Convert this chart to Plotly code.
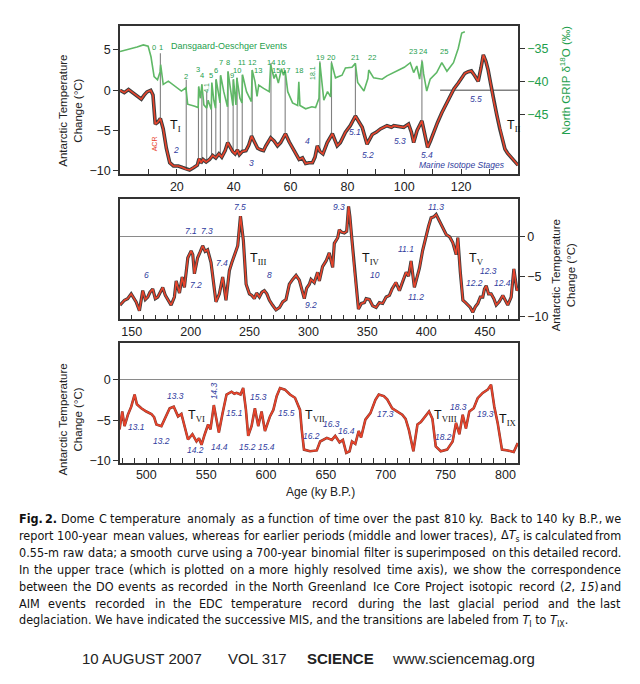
import re
import plotly.graph_objects as go

# ---------------- DATA ----------------
# Panel 1 (0-140 ky): EDC temperature anomaly (deg C)
p1_age = [0, 1.5, 3, 4.5, 6, 7.5, 8.5, 9.5, 10.8, 11.6, 12.4, 13.2, 14.2, 15.2, 16.3, 17.5, 18.8, 20.5, 22,
          23.2, 24.5, 26, 27.2, 27.8, 28.5, 29.2, 30.3, 31.5, 32.6, 33.7, 34.8, 35.8, 37.0, 37.9, 38.8, 39.6,
          40.5, 41.3, 42.0, 43.0, 44.3, 45.3, 46.3, 47.3, 48.4, 49.5, 50.5, 51.3, 53.0, 54.2, 55.4, 56.5, 58.2,
          59.5, 60.7, 62, 63, 64.2, 65.3, 66.5, 67.7, 68.6, 69.4, 70.3, 71.4, 72.9, 74.7, 76.4, 77.5, 79.3, 81,
          82.8, 84, 85.2, 86.9, 88.7, 90.2, 91.6, 93.9, 95.5, 96.3, 98, 99.8, 101.5, 102.5, 103.3, 104.5, 106.2,
          107.2, 108.2, 109.2, 110.3, 111.7, 113.2, 114.7, 116.1, 117.5, 119, 120.2, 121.3, 122.5, 123.6, 124.8,
          126, 127, 127.8, 128.7, 129.5, 130.4, 131.3, 132.5, 133.6, 134.5, 135.4, 136.3, 137.1, 138.2, 139.2, 140]
p1_temp = [0, -0.3, 0.1, -0.3, -0.6, -1.1, -0.6, -0.2, 0, -0.6, -4.2, -4.0, -3.5, -4.8, -7.2, -9.0, -9.4, -9.4, -9.6,
           -9.8, -9.9, -9.6, -9.3, -8.5, -9.0, -8.6, -8.9, -8.6, -8.1, -8.4, -7.9, -8.3, -7.5, -6.5, -7.1, -7.6,
           -7.9, -7.4, -8.0, -7.6, -7.5, -6.8, -5.7, -6.4, -7.2, -7.4, -7.5, -6.9, -5.9, -6.3, -6.9, -6.5, -5.4,
           -6.4, -7.2, -8.0, -8.6, -8.4, -9.1, -9.0, -9.0, -8.3, -6.9, -7.6, -7.9, -6.5, -5.4, -6.9, -6.5, -5.2, -4.4,
           -3.2, -3.9, -4.6, -6.7, -5.5, -5.2, -4.8, -4.4, -4.6, -4.4, -4.5, -4.6, -4.2, -5.2, -6.5, -5.0, -3.8,
           -5.5, -7.1, -6.3, -5.2, -4.0, -2.8, -1.8, -0.7, 0.2, 0.9, 1.5, 2.1, 2.3, 2.4, 1.8,
           1.1, 2.8, 4.4, 3.6, 2.5, 0.8, -1.1, -3.0, -4.8, -6.2, -7.3, -7.8, -8.1, -8.6, -8.9, -9.3]

# NorthGRIP d18O (permil)
grip_age = [0, 3, 6, 8.2, 9.9, 10.9, 12.0, 13.2, 14.1, 14.3, 15.2, 17, 19.3, 21.6, 23.2, 23.8, 26.3, 27.5, 27.7,
            28.3, 28.8, 29.5, 30.5, 31, 32.1, 32.3, 33.0, 33.6, 33.8, 34.6, 35.2, 35.4, 36.5, 37.8, 38.0, 39.0,
            39.7, 39.9, 40.8, 41.1, 42.2, 42.9, 43.1, 44.5, 46.2, 46.5, 47.5, 48.2, 48.8, 50.5, 52.5, 53.0, 54.2,
            54.8, 55.7, 56.8, 57.5, 58.1, 59, 60.7, 62.5, 62.9, 63.3, 65.3, 67.5, 68.8, 70.0, 70.3, 71.7, 73.0,
            74.1, 74.4, 75.8, 78.1, 79.3, 81.6, 82.8, 83.6, 85.8, 87.2, 87.5, 89.2, 92.2, 93.9, 97.4, 100, 102.1,
            103.3, 104.4, 105.4, 106.1, 106.3, 106.8, 107.9, 109.1, 111.4, 113.2, 115, 117.3, 119, 120.2, 121.3]
grip_d18o = [-35.4, -35.1, -34.7, -34.4, -34.6, -36.2, -39.2, -39.7, -38.5, -37.4, -40.4, -39.9, -40.7, -41.4,
             -40.9, -43.4, -43.7, -43.9, -40.7, -42.5, -40.4, -43.5, -44.0, -42.8, -44.2, -40.1, -42.8, -44.0,
             -39.6, -41.8, -43.2, -39.0, -41.5, -43.8, -38.4, -41.5, -43.6, -39.6, -43.5, -39.4, -42.5, -43.2,
             -38.9, -41.5, -43.0, -38.2, -40.0, -42.2, -40.5, -41.0, -41.5, -37.4, -39.5, -38.8, -40.2, -38.0,
             -39.0, -38.3, -41.5, -43.2, -43.6, -40.0, -43.6, -44.1, -43.8, -43.9, -42.5, -37.1, -42.8, -41.5,
             -42.3, -37.1, -39.4, -39.0, -37.9, -37.8, -37.2, -40.1, -41.4, -39.5, -38.2, -39.4, -39.6, -39.1,
             -38.4, -37.8, -37.1, -38.6, -37.6, -39.6, -37.4, -36.9, -38.8, -41.4, -39.6, -38.6, -37.1, -38.4,
             -37.1, -34.9, -32.6, -32.4]

# Dansgaard-Oeschger connector lines (age, top and base in deg C units of the left axis)
do_age = [14.2, 23.3, 27.6, 28.8, 30.5, 32.2, 33.7, 35.3, 38.0, 39.8, 41.2, 43.0, 46.5, 53.1, 58.1, 70.3, 74.4, 82.8, 106.2]
do_top = [4.6, 1.3, 0.45, 0.7, -0.2, 0.9, 1.3, 1.8, 2.3, 1.3, 1.55, 1.9, 2.5, 3.4, 2.5, 3.6, 3.6, 3.4, 3.8]
do_base = [-3.8, -9.8, -8.9, -9.2, -9.0, -8.5, -8.3, -8.2, -6.6, -7.8, -8.0, -7.7, -5.7, -5.8, -5.4, -7.5, -5.4, -3.2, -3.8]
do_labels = ["0", "1", "2", "3", "4", "5", "6", "7", "8", "9", "10", "11", "12", "13", "14", "15", "16", "17", "18",
             "19", "20", "21", "22", "23", "24", "25"]
do_label_age = [11.8, 14.3, 23.3, 27.4, 28.8, 31.9, 33.6, 35.4, 37.9, 39.5, 41.0, 42.9, 46.3, 48.5, 53.1, 54.8, 56.7,
                58.3, 62.8, 70.3, 74.3, 82.8, 88.5, 102.9, 106.5, 113.8]
do_label_y = [5.33, 5.37, 1.73, 2.56, 1.81, 1.81, 2.51, 3.5, 3.5, 1.81, 2.51, 3.5, 3.5, 2.51, 3.5, 2.51, 3.5,
              2.51, 2.51, 4.05, 4.05, 4.05, 4.05, 4.79, 4.79, 4.79]
p1_ref_span = [112.6, 140]

# Panel 2 (140-478 ky)
p2_age = [140, 143.8, 146.5, 149.5, 153.7, 156.5, 159.3, 161.5, 163.6, 165.5, 167.8, 170, 172.1, 174.2, 176.3,
          178.5, 180.6, 183.4, 186.2, 187.7, 190.5, 192.8, 194.7, 197.6, 200.4, 201.8, 203.2, 205.9, 208, 210.2,
          212.3, 214.4, 217.3, 219.5, 221.5, 224.4, 227.2, 230, 232.9, 235, 237.2, 240, 242.3, 244.8, 247.1, 249.9,
          252, 254.1, 256, 258.4, 260.5, 262.6, 264.7, 266.9, 269.5, 272.5, 275.5, 278.2, 281, 283.8, 286.6, 289.5,
          292.3, 295.1, 296.5, 298.5, 300.8, 302.2, 305, 307.8, 309.3, 312, 315, 317.7, 320.6, 322, 324.9, 326.2,
          328, 330.5, 332.5, 334.1, 335.2, 336.5, 339, 342.5, 345, 347.5, 349, 351.8, 354.6, 357.5, 360.3, 363.1,
          366, 368.8, 371, 373, 374.4, 377.3, 380, 383, 385, 387.2, 390, 392, 394.3, 397, 400, 402, 404.2, 406.5,
          408.5, 410.5, 412.7, 415, 417, 420, 422.6, 425.5, 426.9, 429, 431.2, 433.5, 435.4, 437.5, 439.6, 441.8,
          443.9, 446, 448.1, 449.5, 451, 453, 455.2, 457.5, 459.5, 462, 465.1, 467, 469.3, 472.2, 474.5, 477.1, 478]
p2_temp = [-8.6, -8.0, -7.8, -7.2, -8.2, -9.3, -6.8, -7.9, -7.6, -7.0, -6.6, -7.8, -7.6, -7.0, -6.4,
           -7.4, -8.0, -8.6, -7.6, -5.6, -7.1, -5.1, -6.4, -2.7, -1.85, -2.3, -4.7, -2.7, -2.0, -1.2,
           -1.9, -1.7, -3.3, -6.0, -8.2, -7.2, -5.1, -8.0, -4.3, -3.3, -2.3, -1.2, 2.5, -0.6, -6.0, -7.2,
           -7.4, -7.8, -7.1, -7.6, -7.0, -6.8, -7.2, -8.0, -8.6, -9.2, -8.9, -8.2, -7.9, -6.0, -5.4, -4.9,
           -5.5, -7.2, -7.8, -6.5, -6.0, -5.4, -5.8, -4.5, -5.6, -3.8, -3.1, -2.1, -3.9, -0.9, -0.2, 0.8,
           0.5, 0.4, 0.6, 3.7, 2.5, 0.3, -4.1, -9.1, -8.4, -8.3, -7.8, -7.9, -8.7, -8.9, -8.3, -8.4,
           -7.6, -7.4, -6.6, -6.0, -5.8, -6.8, -5.6, -4.5, -5.0, -3.1, -6.4, -5.2, -4.0, -1.8, 0.2, 1.2, 2.3, 2.4,
           2.7, 2.1, 1.5, 0.6, 0.2, -0.1, -0.8, -2.3, -0.2, -4.5, -8.0, -8.3, -8.6, -8.9, -9.5, -8.8,
           -8.4, -7.6, -7.6, -6.6, -6.2, -7.2, -7.2, -7.8, -8.6, -8.2, -7.4, -8.0, -8.6, -7.6, -4.1, -6.8, -6.5]

# Panel 3 (478-810 ky)
p3_age = [477.6, 479.9, 481.8, 484.6, 487.4, 490.2, 492.1, 495.8, 500, 504.2, 506.5, 508.4, 512.6, 515.9, 519.5,
          522.9, 526.5, 529.3, 532.1, 534.8, 538.5, 541.9, 544, 546.1, 548.8, 551.6, 553.6, 556.4, 558.6, 560.6,
          563.7, 567, 571.2, 573.5, 575.4, 578.7, 580.9, 583.2, 585.1, 587.9, 590.7, 593.5, 596.3, 599.1, 603.3,
          606.1, 608.9, 611.7, 615.8, 620, 624.2, 628.4, 629.8, 631.7, 636.8, 642.4, 645.2, 650.8, 655, 657.8,
          661.4, 664.2, 667, 669.8, 671.8, 674.6, 677.4, 679.4, 683, 687.2, 691.4, 694.2, 698.4, 701.2, 705.4,
          709.6, 713.8, 716.6, 719.4, 723.1, 726.5, 729.3, 733.4, 736.2, 739, 741.8, 746, 751.3, 755.9, 758.7,
          761.5, 764.3, 767, 769.8, 773.5, 776.8, 781, 785.2, 788, 790.7, 793.5, 797.1, 801.9, 806.9, 810.3]
p3_temp = [-6.1, -3.9, -5.7, -4.3, -3.3, -1.8, -3.0, -3.5, -3.9, -4.2, -4.6, -5.5, -5.7, -4.7, -3.5,
           -3.3, -4.5, -4.2, -5.7, -7.35, -6.7, -7.6, -7.2, -8.0, -6.7, -5.5, -6.1, -3.1, -4.9, -6.5,
           -4.1, -1.8, -1.45, -1.7, -1.6, -1.8, -1.0, -3.7, -6.9, -5.7, -3.5, -5.7, -3.9, -6.3, -4.5,
           -3.7, -2.0, -1.0, -1.2, -1.8, -2.2, -3.7, -6.1, -8.6, -8.8, -8.7, -7.6, -7.15, -7.4, -6.9,
           -7.7, -7.4, -9.0, -8.8, -7.6, -7.9, -6.3, -7.1, -4.9, -4.1, -2.45, -1.8, -2.0, -2.4, -3.5,
           -3.9, -4.3, -4.8, -6.2, -8.8, -5.5, -5.2, -4.5, -3.9, -4.8, -8.2, -8.8, -8.6, -7.6, -5.3,
           -6.7, -4.3, -6.0, -3.9, -3.5, -2.25, -1.6, -1.2, -0.6, -3.3, -5.3, -8.6, -8.7, -8.9, -7.8]

# Tick values / labels
p1_xticks = [10, 20, 30, 40, 50, 60, 70, 80, 90, 100, 110, 120, 130]
p1_xlabels = [20, 40, 60, 80, 100, 120]
p2_xticks = [150, 160, 170, 180, 190, 200, 210, 220, 230, 240, 250, 260, 270, 280, 290, 300, 310, 320, 330,
             340, 350, 360, 370, 380, 390, 400, 410, 420, 430, 440, 450, 460, 470]
p2_xlabels = [150, 200, 250, 300, 350, 400, 450]
p3_xticks = [480, 490, 500, 510, 520, 530, 540, 550, 560, 570, 580, 590, 600, 610, 620, 630, 640, 650, 660,
             670, 680, 690, 700, 710, 720, 730, 740, 750, 760, 770, 780, 790, 800]
p3_xlabels = [500, 550, 600, 650, 700, 750, 800]
temp_ticks_p1 = [-10, -5, 0, 5]
grip_ticks = [-45, -40, -35]
temp_ticks = [-10, -5, 0]

# Marine isotope stage labels (text, age, temp)
mis_p1 = [("2", 19.8, -7.4), ("3", 46.1, -9.0), ("4", 65.9, -6.3), ("5.1", 82.6, -5.2), ("5.2", 87.3, -8.0),
          ("5.3", 98.4, -6.3), ("5.4", 107.9, -8.1), ("5.5", 125.4, -1.06)]
mis_p2 = [("6", 162.6, -4.9), ("7.1", 200.4, 0.7), ("7.3", 213.7, 0.7), ("7.2", 204.7, -6.1), ("7.4", 226.8, -3.3),
          ("7.5", 242, 3.6), ("8", 267, -4.9), ("9.2", 302.2, -8.6), ("9.3", 326.4, 3.6), ("10", 356.2, -4.9),
          ("11.1", 382.5, -1.6), ("11.2", 391.5, -7.6), ("11.3", 408.5, 3.6), ("12.2", 440.8, -5.8),
          ("12.3", 453.2, -4.4), ("12.4", 464.9, -5.8)]
mis_p3 = [("13.1", 492.1, -5.8), ("13.3", 524.5, -2.0), ("13.2", 513, -7.55), ("15.1", 574, -4.1),
          ("14.2", 541.3, -8.6), ("14.4", 561.4, -8.25), ("15.3", 594, -2.1), ("15.2", 584.3, -8.25),
          ("15.4", 600.5, -8.25), ("15.5", 616.7, -4.1), ("16.2", 638.2, -6.9), ("16.3", 655, -5.4),
          ("16.4", 667.5, -6.25), ("17.3", 699.6, -4.2), ("18.2", 748.5, -7.0), ("18.3", 760.6, -3.4),
          ("19.3", 783.1, -4.2)]
# Termination labels (numeral, left age, temp, panel)
terminations = [("I", 16.8, -4.5, 1), ("II", 135.5, -4.5, 1), ("III", 248.5, -2.9, 2), ("IV", 343.5, -2.9, 2),
                ("V", 434.5, -2.9, 2), ("VI", 533.5, -4.5, 3), ("VII", 631.2, -4.5, 3), ("VIII", 738.6, -4.5, 3),
                ("IX", 793.1, -4.9, 3)]

caption_lines = [
    "<b>Fig.</b> <b>2.</b> Dome C temperature anomaly as a function of time over the past 810 ky. Back to 140 ky B.P., we",
    "report 100-year mean values, whereas for earlier periods (middle and lower traces), Δ<i>T</i><sub>s</sub> is calculated from",
    "0.55-m raw data; a smooth curve using a 700-year binomial filter is superimposed on this detailed record.",
    "In the upper trace (which is plotted on a more highly resolved time axis), we show the correspondence",
    "between the DO events as recorded in the North Greenland Ice Core Project isotopic record (<i>2</i>, <i>15</i>) and",
    "AIM events recorded in the EDC temperature record during the last glacial period and the last",
    "deglaciation. We have indicated the successive MIS, and the transitions are labeled from <i>T</i><sub>I</sub> to <i>T</i><sub>IX</sub>.",
]
footer_parts = [("10 AUGUST 2007", 80), ("VOL 317", 226), ("<b>SCIENCE</b>", 305), ("www.sciencemag.org", 390)]

# ---------------- STYLE ----------------
OFF = 8                      # page body margin of the browser
W, H = 640 - 2 * OFF, 684 - 2 * OFF
FONT = "Liberation Sans, Arial, sans-serif"
CAPFONT = "DejaVu Sans Condensed, Liberation Sans Narrow, sans-serif"
CAPSIZE = 12.5
RED = "#e8432b"
RAW = "#3c3c3c"
GREEN_LINE = "#5fb866"
GREEN_TXT = "#1e9e4c"
BLUE = "#2f3c9e"
AX = "#333333"


def px(x):
    return (x - OFF) / W


def py(y):
    return 1 - (y - OFF) / H


fig = go.Figure()

# Panel 1 traces
fig.add_trace(go.Scatter(x=grip_age, y=grip_d18o, mode="lines", line=dict(color=GREEN_LINE, width=1.6),
                         xaxis="x", yaxis="y2", hoverinfo="skip"))
do_x, do_y = [], []
for a, t, b in zip(do_age, do_top, do_base):
    do_x += [a, a, None]
    do_y += [b, t, None]
fig.add_trace(go.Scatter(x=do_x, y=do_y, mode="lines", line=dict(color="#808080", width=1.1),
                         xaxis="x", yaxis="y", hoverinfo="skip"))
fig.add_trace(go.Scatter(x=p1_ref_span, y=[0, 0], mode="lines", line=dict(color="#808080", width=1.3),
                         xaxis="x", yaxis="y", hoverinfo="skip"))
fig.add_trace(go.Scatter(x=p1_age, y=p1_temp, mode="lines", line=dict(color=RAW, width=3.6),
                         xaxis="x", yaxis="y", hoverinfo="skip"))
fig.add_trace(go.Scatter(x=p1_age, y=p1_temp, mode="lines", line=dict(color=RED, width=1.6),
                         xaxis="x", yaxis="y", hoverinfo="skip"))
# Panel 2
fig.add_trace(go.Scatter(x=p2_age, y=p2_temp, mode="lines", line=dict(color=RAW, width=3.2),
                         xaxis="x2", yaxis="y3", hoverinfo="skip"))
fig.add_trace(go.Scatter(x=p2_age, y=p2_temp, mode="lines", line=dict(color=RED, width=1.6),
                         xaxis="x2", yaxis="y3", hoverinfo="skip"))
# Panel 3
fig.add_trace(go.Scatter(x=p3_age, y=p3_temp, mode="lines", line=dict(color="#7a3a30", width=2.6),
                         xaxis="x3", yaxis="y4", hoverinfo="skip"))
fig.add_trace(go.Scatter(x=p3_age, y=p3_temp, mode="lines", line=dict(color=RED, width=1.7),
                         xaxis="x3", yaxis="y4", hoverinfo="skip"))

tickfont = dict(family=FONT, size=12.5, color="#222")
xdom = [px(120), px(518)]


def xax(rng, ticks, labels, anchor):
    return dict(domain=xdom, range=rng, anchor=anchor, tickmode="array", tickvals=labels,
                ticks="inside", ticklen=5, tickcolor=AX, tickwidth=1.2,
                minor=dict(tickmode="array", tickvals=ticks, ticks="inside", ticklen=5, tickcolor=AX,
                           tickwidth=1.2, showgrid=False),
                showline=True, mirror=True, linecolor=AX, linewidth=1.5,
                showgrid=False, zeroline=False, tickfont=tickfont, fixedrange=True)


def yax(rng, ticks, dom, side, zero, anchor):
    return dict(domain=dom, range=rng, anchor=anchor, side=side, tickmode="array", tickvals=ticks,
                ticks="outside", ticklen=5, tickcolor=AX, tickwidth=1.2, showline=True, mirror=True,
                linecolor=AX, linewidth=1.5, showgrid=False, zeroline=zero, zerolinecolor="#8a8a8a",
                zerolinewidth=1.3, tickfont=tickfont, fixedrange=True)


fig.update_layout(
    width=W, height=H, margin=dict(l=0, r=0, t=0, b=0), paper_bgcolor="white", plot_bgcolor="white",
    showlegend=False, font=dict(family=FONT),
    xaxis=xax([0, 140], p1_xticks, p1_xlabels, "y"),
    yaxis=yax([-10.4, 8], temp_ticks_p1, [py(175.5), py(26)], "left", False, "x"),
    yaxis2=dict(overlaying="y", side="right", range=[-54, -31.5], anchor="x", tickmode="array",
                tickvals=grip_ticks, ticks="outside", ticklen=5, tickcolor=AX, tickwidth=1.2,
                showline=True, linecolor=AX, linewidth=1.5, showgrid=False, zeroline=False,
                tickfont=dict(family=FONT, size=12.5, color=GREEN_TXT), fixedrange=True),
    xaxis2=xax([140, 478], p2_xticks, p2_xlabels, "y3"),
    yaxis3=yax([-10.4, 4.6], temp_ticks, [py(322.3), py(201)], "right", True, "x2"),
    xaxis3=xax([478, 810.5], p3_xticks, p3_xlabels, "y4"),
    yaxis4=yax([-10.2, 4.6], temp_ticks, [py(466.7), py(345.7)], "left", True, "x3"),
)

ann = []


def A(text, x, y, xref="paper", yref="paper", size=12, color="#222", xanchor="center", yanchor="middle",
      angle=0, family=FONT):
    ann.append(dict(text=text, x=x, y=y, xref=xref, yref=yref, showarrow=False, xanchor=xanchor,
                    yanchor=yanchor, textangle=angle, font=dict(family=family, size=size, color=color)))


# axis titles
A("Antarctic Temperature<br>Change (°C)", px(71), py(111.7), size=11.5, angle=-90)
A("Antarctic Temperature<br>Change (°C)", px(71), py(423.3), size=11.5, angle=-90)
A("Antarctic Temperature<br>Change (°C)", px(563.5), py(278.3), size=11.5, angle=-90)
A("North GRIP δ<sup>18</sup>O (‰)", px(565), py(81.7), size=11.5, angle=-90, color=GREEN_TXT)
A("Age (ky B.P.)", px(320), py(496), size=12)

# DO labels
A("Dansgaard-Oeschger Events", 38.5, 5.5, "x", "y", size=9, color=GREEN_TXT)
for lab, a, t in zip(do_labels, do_label_age, do_label_y):
    A(lab, a, t, "x", "y", size=7.5, color=GREEN_TXT)
A("4.1", 30.6, 0.3, "x", "y", size=7, color=GREEN_TXT, angle=-90)
A("18.1", 67.7, 2.2, "x", "y", size=7, color=GREEN_TXT, angle=-90)
A("ACR", 12.0, -6.7, "x", "y", size=7, color=RED, angle=-90)
A("<i>Marine Isotope Stages</i>", 120.3, -9.25, "x", "y", size=8.5, color=BLUE)

for lab, a, t in mis_p1:
    A("<i>" + lab + "</i>", a, t, "x", "y", size=8.5, color=BLUE)
for lab, a, t in mis_p2:
    A("<i>" + lab + "</i>", a, t, "x2", "y3", size=8.5, color=BLUE)
for lab, a, t in mis_p3:
    A("<i>" + lab + "</i>", a, t, "x3", "y4", size=8.5, color=BLUE)
A("<i>14.3</i>", 556.6, -1.4, "x3", "y4", size=8.5, color=BLUE, angle=-90)

refs = {1: ("x", "y"), 2: ("x2", "y3"), 3: ("x3", "y4")}
for num, a, t, p in terminations:
    xr, yr = refs[p]
    A("T<sub><span style='font-family:Liberation Serif'>" + num + "</span></sub>", a, t, xr, yr, size=12.5,
      color="#111", xanchor="left")

# ---- caption, justified word by word (approximate DejaVu Sans Condensed advance widths) ----
CW = {" ": 651, "(": 799, ")": 799, ",": 651, "-": 739, ".": 651, ";": 690, ":": 690, "Δ": 1401,
      "A": 1401, "B": 1405, "C": 1430, "D": 1577, "E": 1294, "F": 1178, "G": 1587, "H": 1540, "I": 604,
      "J": 604, "K": 1343, "L": 1141, "M": 1767, "N": 1532, "O": 1612, "P": 1235, "Q": 1612, "R": 1423,
      "S": 1300, "T": 1251, "U": 1499, "V": 1401, "W": 2025, "X": 1403, "Y": 1251, "Z": 1403,
      "a": 1255, "b": 1300, "c": 1126, "d": 1300, "e": 1260, "f": 721, "g": 1300, "h": 1298, "i": 569,
      "j": 569, "k": 1186, "l": 569, "m": 1995, "n": 1298, "o": 1253, "p": 1300, "q": 1300, "r": 842,
      "s": 1067, "t": 803, "u": 1298, "v": 1212, "w": 1675, "x": 1212, "y": 1212, "z": 1075}


def word_width(word, size):
    bold = 1.1 if "<b>" in word else 1.0
    subs = re.findall(r"<sub>(.*?)</sub>", word)
    main = re.sub(r"<sub>.*?</sub>", "", word)
    main = re.sub(r"<[^>]+>", "", main)
    units = sum(CW.get(c, 1303) for c in main) + 0.7 * sum(CW.get(c, 1303) for s in subs for c in s)
    return units / 2048.0 * size * 0.94 * bold


LEFT, RIGHT = 17, 623
for i, line in enumerate(caption_lines):
    ypos = py(523 + i * 17.2)
    if i == len(caption_lines) - 1:
        A(line, px(LEFT), ypos, size=CAPSIZE, color="#111", xanchor="left", family=CAPFONT)
        continue
    words = line.split(" ")
    widths = [word_width(w, CAPSIZE) for w in words]
    gap = (RIGHT - LEFT - sum(widths)) / (len(words) - 1)
    x = LEFT
    for j, (w, wd) in enumerate(zip(words, widths)):
        if j == len(words) - 1:
            A(w, px(RIGHT), ypos, size=CAPSIZE, color="#111", xanchor="right", family=CAPFONT)
        else:
            A(w, px(x), ypos, size=CAPSIZE, color="#111", xanchor="left", family=CAPFONT)
        x += wd + gap

for txt, x0 in footer_parts:
    A(txt, px(x0), py(664), size=15, color="#222", xanchor="left")

fig.update_layout(annotations=ann)
fig.write_html("out.html")
